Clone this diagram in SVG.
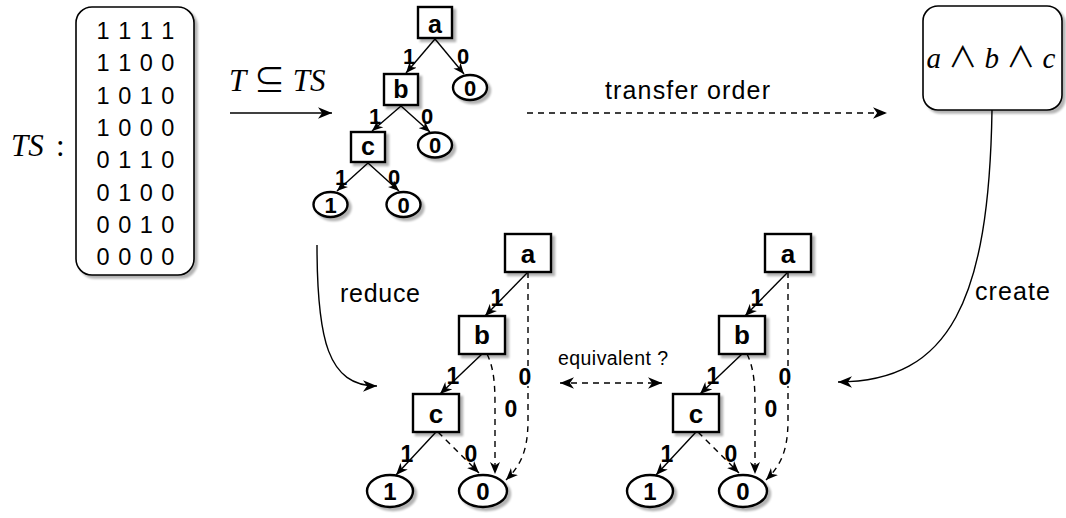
<svg xmlns="http://www.w3.org/2000/svg" width="1066" height="518" viewBox="0 0 1066 518">
  <style>
    .box { fill: #ffffff; stroke: #000000; stroke-width: 1.6; }
    .node { fill: #ffffff; stroke: #000000; stroke-width: 2.4; }
    .lbl { font-family: "Liberation Sans", Arial, sans-serif; font-weight: bold; fill: #000000; text-anchor: middle; }
    .txt { font-family: "Liberation Sans", Arial, sans-serif; fill: #000000; }
    .math { font-family: "Liberation Serif", "Noto Sans CJK JP", "DejaVu Serif", serif; fill: #000000; }
    .sym { font-family: "Noto Sans CJK JP", "DejaVu Sans", sans-serif; font-style: normal; font-weight: normal; }
    .e { fill: none; stroke: #000000; stroke-width: 1.4; }
    .dash { stroke-dasharray: 6 5; }
    .big { marker-end: url(#arrowBig); }
    .sm { marker-end: url(#arrowSm); }
    .tiny { marker-end: url(#arrowTiny); }
  </style>
  <defs>
    <filter id="shadow" x="-20%" y="-20%" width="150%" height="150%">
      <feGaussianBlur in="SourceAlpha" stdDeviation="1.2"/>
      <feOffset dx="3" dy="3"/>
      <feComponentTransfer><feFuncA type="linear" slope="0.3"/></feComponentTransfer>
      <feMerge><feMergeNode/><feMergeNode in="SourceGraphic"/></feMerge>
    </filter>
    <marker id="arrowBig" viewBox="0 0 12 10" refX="12" refY="5" markerWidth="14" markerHeight="12" markerUnits="userSpaceOnUse" orient="auto-start-reverse">
      <path d="M0,0 L12,5 L0,10 L3.5,5 Z" fill="#000"/>
    </marker>
    <marker id="arrowSm" viewBox="0 0 12 10" refX="12" refY="5" markerWidth="12" markerHeight="11" markerUnits="userSpaceOnUse" orient="auto">
      <path d="M0,0 L12,5 L0,10 L3.5,5 Z" fill="#000"/>
    </marker>
    <marker id="arrowTiny" viewBox="0 0 12 10" refX="12" refY="5" markerWidth="11" markerHeight="10" markerUnits="userSpaceOnUse" orient="auto">
      <path d="M0,0 L12,5 L0,10 L3.5,5 Z" fill="#000"/>
    </marker>
  </defs>

  <!-- training set matrix -->
  <g id="ts-label">
    <text class="math" x="11" y="156" font-size="31" font-style="italic">TS</text>
    <text class="math" x="56" y="156" font-size="31">:</text>
  </g>
  <g id="ts-matrix">
    <rect class="box" x="76" y="7" width="118" height="268" rx="16" filter="url(#shadow)"/>
    <g class="txt" font-size="23.5" text-anchor="middle" word-spacing="2">
      <text x="135.5" y="39">1 1 1 1</text>
      <text x="135.5" y="71.3">1 1 0 0</text>
      <text x="135.5" y="103.6">1 0 1 0</text>
      <text x="135.5" y="135.9">1 0 0 0</text>
      <text x="135.5" y="168.2">0 1 1 0</text>
      <text x="135.5" y="200.5">0 1 0 0</text>
      <text x="135.5" y="232.8">0 0 1 0</text>
      <text x="135.5" y="265">0 0 0 0</text>
    </g>
  </g>

  <!-- conjunction box -->
  <g id="formula">
    <rect class="box" x="923" y="6" width="139" height="104" rx="15" filter="url(#shadow)"/>
    <text class="math" x="991" y="68" font-size="29" text-anchor="middle"><tspan font-style="italic">a</tspan> <tspan class="sym">∧</tspan> <tspan font-style="italic">b</tspan> <tspan class="sym">∧</tspan> <tspan font-style="italic">c</tspan></text>
  </g>

  <!-- decision tree learned from T -->
  <g id="t-a"><rect class="node" x="418" y="7" width="34" height="31" filter="url(#shadow)"/><text class="lbl" x="435" y="33" font-size="25">a</text></g>
  <g id="t-b"><rect class="node" x="384" y="74" width="34" height="31" filter="url(#shadow)"/><text class="lbl" x="401" y="98" font-size="25">b</text></g>
  <g id="t-c"><rect class="node" x="351" y="132" width="34" height="30" filter="url(#shadow)"/><text class="lbl" x="368" y="155" font-size="25">c</text></g>
  <g id="t-a0"><ellipse class="node" cx="470" cy="87.5" rx="17" ry="12.5" filter="url(#shadow)"/><text class="lbl" x="470" y="95.5" font-size="22">0</text></g>
  <g id="t-b0"><ellipse class="node" cx="435" cy="145" rx="17" ry="12.5" filter="url(#shadow)"/><text class="lbl" x="435" y="153" font-size="22">0</text></g>
  <g id="t-c1"><ellipse class="node" cx="330.5" cy="204.5" rx="17" ry="12.5" filter="url(#shadow)"/><text class="lbl" x="330.5" y="212.5" font-size="22">1</text></g>
  <g id="t-c0"><ellipse class="node" cx="403.5" cy="204.5" rx="17" ry="12.5" filter="url(#shadow)"/><text class="lbl" x="403.5" y="212.5" font-size="22">0</text></g>

  <!-- reduced diagram (left) -->
  <g id="l-a"><rect class="node" x="505" y="234" width="46" height="38" filter="url(#shadow)"/><text class="lbl" x="528" y="263" font-size="26">a</text></g>
  <g id="l-b"><rect class="node" x="459" y="316" width="46" height="38" filter="url(#shadow)"/><text class="lbl" x="482" y="344" font-size="26">b</text></g>
  <g id="l-c"><rect class="node" x="413" y="394" width="46" height="38" filter="url(#shadow)"/><text class="lbl" x="436" y="423" font-size="26">c</text></g>
  <g id="l-1"><ellipse class="node" cx="390" cy="491" rx="23" ry="16" filter="url(#shadow)"/><text class="lbl" x="390" y="499.5" font-size="24">1</text></g>
  <g id="l-0"><ellipse class="node" cx="483" cy="491" rx="24" ry="16" filter="url(#shadow)"/><text class="lbl" x="483" y="499.5" font-size="24">0</text></g>

  <!-- diagram created from the formula (right) -->
  <g id="r-a"><rect class="node" x="765" y="234" width="46" height="38" filter="url(#shadow)"/><text class="lbl" x="788" y="263" font-size="26">a</text></g>
  <g id="r-b"><rect class="node" x="719" y="316" width="46" height="38" filter="url(#shadow)"/><text class="lbl" x="742" y="344" font-size="26">b</text></g>
  <g id="r-c"><rect class="node" x="673" y="394" width="46" height="38" filter="url(#shadow)"/><text class="lbl" x="696" y="423" font-size="26">c</text></g>
  <g id="r-1"><ellipse class="node" cx="650" cy="491" rx="23" ry="16" filter="url(#shadow)"/><text class="lbl" x="650" y="499.5" font-size="24">1</text></g>
  <g id="r-0"><ellipse class="node" cx="743" cy="491" rx="24" ry="16" filter="url(#shadow)"/><text class="lbl" x="743" y="499.5" font-size="24">0</text></g>

  <g id="connectors">
    <!-- process arrows -->
    <path class="e big" d="M230 113 L332 113"/>
    <text class="math" x="229" y="91" font-size="31"><tspan font-style="italic">T</tspan> <tspan class="sym">⊆</tspan> <tspan font-style="italic">TS</tspan></text>
    <path class="e big dash" d="M527 113 L887 113"/>
    <text class="txt" x="605" y="99" font-size="25" textLength="165" lengthAdjust="spacing">transfer order</text>
    <path class="e big" d="M317 245 C317 340 328 386 377 386"/>
    <text class="txt" x="340" y="302" font-size="25" textLength="80" lengthAdjust="spacing">reduce</text>
    <path class="e big" d="M992 110 C989 300 950 382 838 382"/>
    <text class="txt" x="975" y="300" font-size="25" textLength="75" lengthAdjust="spacing">create</text>
    <path class="e dash" d="M560 383 L662 383" marker-start="url(#arrowBig)" marker-end="url(#arrowBig)"/>
    <text class="txt" x="558" y="365" font-size="19.5" textLength="110" lengthAdjust="spacing">equivalent ?</text>

    <!-- learned tree edges -->
    <path class="e tiny" d="M435 39 L406 73"/>
    <path class="e tiny" d="M435 39 L464 74"/>
    <path class="e tiny" d="M401 106 L372 131"/>
    <path class="e tiny" d="M401 106 L430 132"/>
    <path class="e tiny" d="M368 163 L337 191"/>
    <path class="e tiny" d="M368 163 L399 191"/>
    <g class="lbl" font-size="22">
      <text x="409" y="64">1</text>
      <text x="463" y="64">0</text>
      <text x="375" y="124">1</text>
      <text x="427" y="124">0</text>
      <text x="341" y="185">1</text>
      <text x="394" y="185">0</text>
    </g>

    <!-- left reduced diagram edges -->
    <path class="e sm" d="M528 272 L485 316"/>
    <path class="e sm dash" d="M528 272 L528 420 C528 452 520 466 506 480"/>
    <path class="e sm" d="M482 354 L440 394"/>
    <path class="e sm dash" d="M487 354 C494 368 495 385 495 405 L495 474"/>
    <path class="e sm" d="M436 432 L396 475"/>
    <path class="e sm dash" d="M438 432 L479 473"/>
    <g class="lbl" font-size="23">
      <text x="497" y="306">1</text>
      <rect x="518" y="366" width="15" height="20" fill="#fff"/>
      <text x="525" y="385">0</text>
      <text x="511" y="417">0</text>
      <text x="453" y="384">1</text>
      <text x="407" y="462">1</text>
      <text x="471" y="462">0</text>
    </g>

    <!-- right diagram edges -->
    <path class="e sm" d="M788 272 L745 316"/>
    <path class="e sm dash" d="M788 272 L788 420 C788 452 780 466 766 480"/>
    <path class="e sm" d="M742 354 L700 394"/>
    <path class="e sm dash" d="M747 354 C754 368 755 385 755 405 L755 474"/>
    <path class="e sm" d="M696 432 L656 475"/>
    <path class="e sm dash" d="M698 432 L739 473"/>
    <g class="lbl" font-size="23">
      <text x="757" y="306">1</text>
      <rect x="778" y="366" width="15" height="20" fill="#fff"/>
      <text x="785" y="385">0</text>
      <text x="771" y="417">0</text>
      <text x="713" y="384">1</text>
      <text x="667" y="462">1</text>
      <text x="731" y="462">0</text>
    </g>
  </g>
</svg>
